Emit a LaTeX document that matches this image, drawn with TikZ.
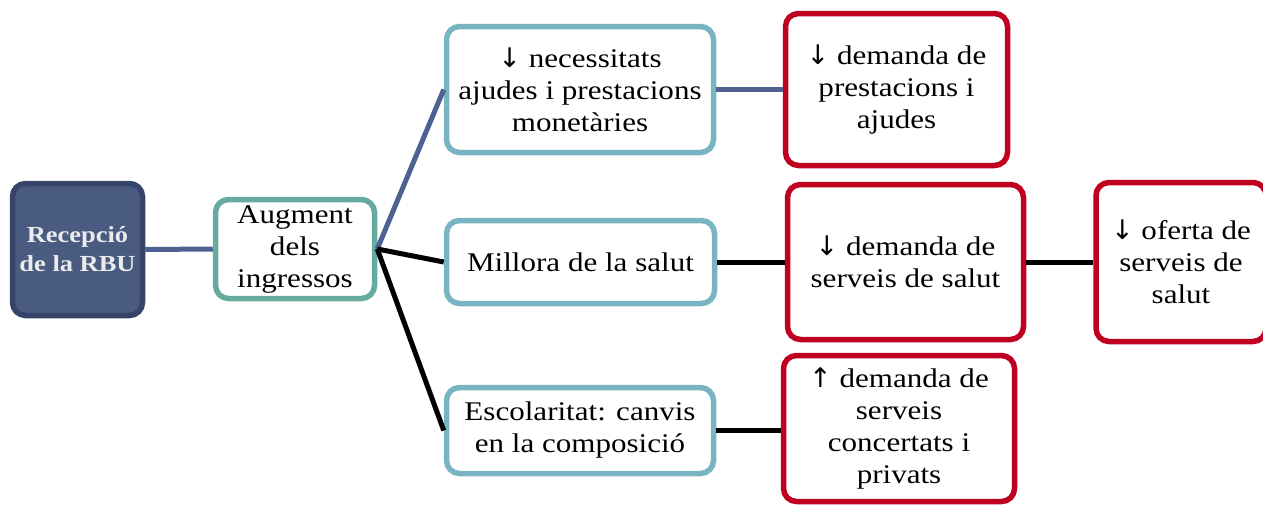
\documentclass[tikz,border=0pt]{standalone}
\usepackage{fontspec}
\setmainfont{Liberation Serif}[FakeStretch=1.15]
\newfontfamily\arrowfont{DejaVu Sans}
\newcommand{\dnarr}{{\arrowfont ↓}}
\newcommand{\uparr}{{\arrowfont ↑}}
\definecolor{rbufill}{HTML}{4A5B82}
\definecolor{rbudraw}{HTML}{36446A}
\definecolor{teal}{HTML}{67AB9F}
\definecolor{lblue}{HTML}{79B4C3}
\definecolor{cred}{HTML}{C00020}
\definecolor{bline}{HTML}{4F6190}
\begin{document}
\begin{tikzpicture}[x=1pt,y=-1pt,
  box/.style={draw, line width=5.5pt, rounded corners=13pt, fill=white, align=center,
    inner sep=2pt, font=\fontsize{27}{32}\selectfont},
  tealbox/.style={box, draw=teal},
  bluebox/.style={box, draw=lblue},
  redbox/.style={box, draw=cred},
  rbubox/.style={draw=rbudraw, fill=rbufill, line width=5.5pt, rounded corners=13pt,
    align=center, text=white!92!black, font=\fontsize{23}{29}\selectfont\bfseries},
  bconn/.style={draw=bline, line width=5pt},
  kconn/.style={draw=black, line width=5pt}]
\useasboundingbox (0,0) rectangle (1263,506);
\node[rbubox, minimum width=130pt, minimum height=132pt] (rbu) at (77.5,249.5) {Recepció\\de la RBU};
\node[tealbox, minimum width=159pt, minimum height=99pt] (aug) at (295,249) {Augment\\dels\\ingressos};
\node[bluebox, minimum width=267pt, minimum height=126pt] (nec) at (580,89.5) {\dnarr{} necessitats\\ajudes i prestacions\\monetàries};
\node[bluebox, minimum width=268pt, minimum height=83pt] (mil) at (580.5,262) {Millora de la salut};
\node[bluebox, minimum width=267pt, minimum height=86pt] (esc) at (580,430.5) {Escolaritat: canvis\\en la composició};
\node[redbox, minimum width=222pt, minimum height=152pt] (r1) at (896.5,89.5) {\dnarr{} demanda de\\prestacions i\\ajudes};
\node[redbox, minimum width=236pt, minimum height=155pt] (r2) at (905.5,262) {\dnarr{} demanda de\\serveis de salut};
\node[redbox, minimum width=170pt, minimum height=159pt] (r3) at (1181,262) {\dnarr{} oferta de\\serveis de\\salut};
\node[redbox, minimum width=231pt, minimum height=146pt] (r4) at (899,428.5) {\uparr{} demanda de\\serveis\\concertats i\\privats};
\path[bconn] (rbu.east) -- (aug.west);
\path[bconn] (aug.east) -- (nec.west);
\path[kconn] (aug.east) -- (mil.west);
\path[kconn] (aug.east) -- (esc.west);
\path[bconn] (nec.east) -- (r1.west);
\path[kconn] (mil.east) -- (r2.west);
\path[kconn] (r2.east) -- (r3.west);
\path[kconn] (esc.east) -- (esc.east -| r4.west);
\end{tikzpicture}
\end{document}
